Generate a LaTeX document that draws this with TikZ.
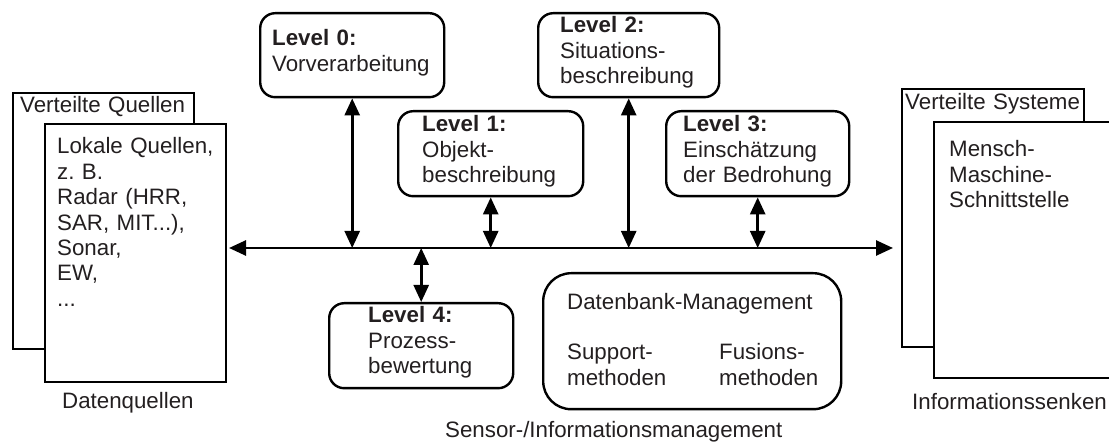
\documentclass[tikz,border=0pt]{standalone}
\usepackage{fontspec}
\setmainfont{Liberation Sans}
\usetikzlibrary{arrows.meta}
\definecolor{ink}{RGB}{35,31,32}
\frenchspacing
\begin{document}
\begin{tikzpicture}[x=1pt,y=-1pt,
  font=\fontsize{22.3}{25.4}\selectfont,
  sheet/.style={draw, line width=1.7pt, fill=white, inner sep=0pt, anchor=north west},
  lvl/.style={draw, line width=2.4pt, rounded corners=15pt, inner sep=0pt, anchor=north west},
  dbbox/.style={draw, line width=2.4pt, rounded corners=28pt, inner sep=0pt, anchor=north west},
  txt/.style={anchor=base west, inner sep=0pt, align=left, text width=420pt, text=ink},
  link/.style={line width=2.6pt, {Triangle[length=17pt,width=15pt]}-{Triangle[length=17pt,width=15pt]}}]
\useasboundingbox (0,0) rectangle (1109,443);

% data sources (left)
\node[sheet, minimum width=181pt, minimum height=256pt] (srcback) at (12,92) {};
\node[txt] (srcttl) at (20,113) {Verteilte Quellen};
\node[sheet, minimum width=181pt, minimum height=258pt] (srcfront) at (44,123) {};
\node[txt] (srclist) at (57,154) {Lokale Quellen,\\z. B.\\Radar (HRR,\\SAR, MIT...),\\Sonar,\\EW,\\...};
\node[txt] (datq) at (62,409) {Datenquellen};

% information sinks (right)
\node[sheet, minimum width=182pt, minimum height=258pt] (sysback) at (901,88) {};
\node[txt] (systtl) at (905,110) {Verteilte Systeme};
\node[sheet, minimum width=200pt, minimum height=256pt] (sysfront) at (933,121) {};
\node[txt] (mmi) at (949,157) {Mensch-\\Maschine-\\Schnittstelle};
\node[txt] (senken) at (912,410) {Informationssenken};

% fusion levels
\node[lvl, minimum width=184pt, minimum height=84pt] (l0) at (259,12) {};
\node[lvl, minimum width=185pt, minimum height=85pt] (l1) at (397,110) {};
\node[lvl, minimum width=181pt, minimum height=84pt] (l2) at (537,12) {};
\node[lvl, minimum width=183pt, minimum height=85pt] (l3) at (665,110) {};
\node[lvl, minimum width=184pt, minimum height=85pt] (l4) at (328,302) {};
\node[txt] (t0) at (272,46) {\textbf{Level 0:}\\Vorverarbeitung};
\node[txt] (t1) at (422,132) {\textbf{Level 1:}\\Objekt-\\beschreibung};
\node[txt] (t2) at (560,33) {\textbf{Level 2:}\\Situations-\\beschreibung};
\node[txt] (t3) at (683,132) {\textbf{Level 3:}\\Einschätzung\\der Bedrohung};
\node[txt] (t4) at (368,323) {\textbf{Level 4:}\\Prozess-\\bewertung};

% database management
\node[dbbox, minimum width=298pt, minimum height=136pt] (db) at (542,272) {};
\node[txt] (dbt) at (567,310) {Datenbank-Management};
\node[txt] (sup) at (567,360) {Support-\\methoden};
\node[txt] (fus) at (719,360) {Fusions-\\methoden};
\node[txt] (sensor) at (445,438) {Sensor-/Informationsmanagement};

% bus and links
\coordinate (busL) at (229,248);
\coordinate (busR) at (893,248);
\draw[link] (busL) -- (busR);
\draw[link] (l0.south) -- (l0.south |- busL);
\draw[link] (l1.south) -- (l1.south |- busL);
\draw[link] (l2.south) -- (l2.south |- busL);
\draw[link] (l3.south) -- (l3.south |- busL);
\draw[link] (l4.north) -- (l4.north |- busL);
\end{tikzpicture}
\end{document}
